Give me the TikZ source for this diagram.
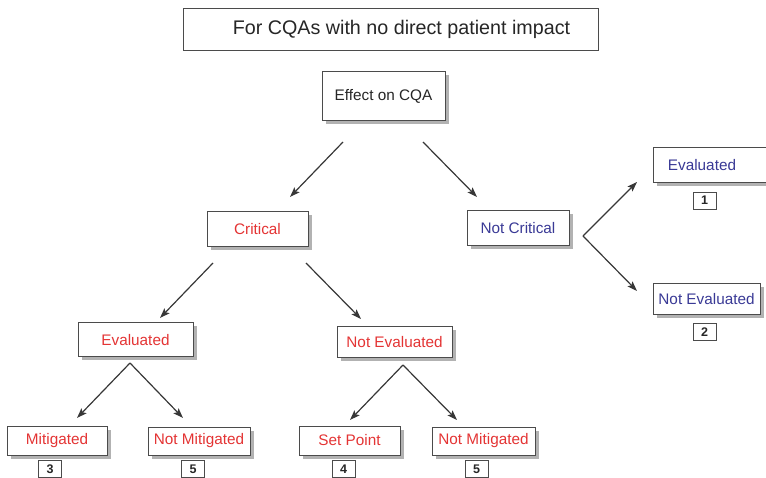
\documentclass[tikz,border=0pt]{standalone}
\usepackage{fontspec}
\setmainfont{Liberation Sans}
\usetikzlibrary{arrows.meta}

\definecolor{critred}{RGB}{228,52,52}
\definecolor{okblue}{RGB}{58,58,150}
\definecolor{edgegray}{RGB}{75,75,75}
\definecolor{arrowgray}{RGB}{55,55,55}
\definecolor{shadowgray}{RGB}{178,178,178}

\tikzset{
  box/.style={draw=edgegray, line width=1pt, fill=white, inner sep=0pt,
    font=\fontsize{15.3}{18}\selectfont,
    preaction={draw=none, fill=shadowgray,
      transform canvas={xshift=3.5pt, yshift=-3.5pt}}},
  redbox/.style={box, text=critred},
  bluebox/.style={box, text=okblue},
  numbox/.style={draw=edgegray, line width=0.9pt, fill=white, inner sep=0pt,
    minimum width=23pt, minimum height=17pt,
    font=\fontsize{12.5}{14}\selectfont\bfseries, text=black!85},
  arr/.style={draw=arrowgray, line width=1.2pt,
    -{Stealth[length=10pt,width=7pt,inset=2pt]}},
}

\begin{document}
\begin{tikzpicture}[x=1pt,y=-1pt]
  \useasboundingbox (0,0) rectangle (766,478);
  \clip (0,0) rectangle (766,478);

  % heading
  \node[draw=edgegray, line width=1pt, fill=white, minimum width=415pt,
        minimum height=42pt, inner sep=0pt] (title) at (390.5,30) {};
  \node[inner sep=0pt, font=\fontsize{19.7}{22}\selectfont, text=black!85]
        (titletext) at (401.5,29) {For CQAs with no direct patient impact};

  % root
  \node[box, minimum width=123pt, minimum height=49pt, text=black!85]
        (eff) at (383.5,96) {Effect on CQA};

  % second level
  \node[redbox, minimum width=101pt, minimum height=35pt]
        (crit) at (257.5,229.5) {Critical};
  \node[bluebox, minimum width=102pt, minimum height=35pt]
        (ncrit) at (518,228.5) {Not Critical};

  % not critical branch (the upper box runs past the right edge)
  \node[bluebox, minimum width=116pt, minimum height=35pt]
        (evalB) at (711,165.5) {};
  \node[inner sep=0pt, font=\fontsize{15.3}{18}\selectfont, text=okblue]
        (evalBtext) at (702,165.5) {Evaluated};
  \node[bluebox, minimum width=107pt, minimum height=31pt]
        (nevalB) at (706.5,299.5) {Not Evaluated};
  \node[numbox] (n1) at (704.5,200.5) {1};
  \node[numbox] (n2) at (704.5,332) {2};

  % critical branch
  \node[redbox, minimum width=115pt, minimum height=34pt]
        (evalR) at (135.5,340) {Evaluated};
  \node[redbox, minimum width=115pt, minimum height=31pt]
        (nevalR) at (394.5,342.5) {Not Evaluated};

  % leaves
  \node[redbox, minimum width=100pt, minimum height=29pt]
        (mit) at (57,440.5) {Mitigated};
  \node[redbox, minimum width=102pt, minimum height=28pt]
        (nmitA) at (199,441) {Not Mitigated};
  \node[redbox, minimum width=101pt, minimum height=29pt]
        (setp) at (349.5,440.5) {Set Point};
  \node[redbox, minimum width=103pt, minimum height=28pt]
        (nmitB) at (483.5,441) {Not Mitigated};

  \node[numbox] (n3) at (50,469) {3};
  \node[numbox] (n5a) at (193,469) {5};
  \node[numbox] (n4) at (343.5,469) {4};
  \node[numbox] (n5b) at (476.5,469) {5};

  % connector end points
  \coordinate (effL) at (343,142);
  \coordinate (effR) at (423,142);
  \coordinate (critIn) at (290,197);
  \coordinate (ncritIn) at (477,197);
  \coordinate (forkNC) at (583,236);
  \coordinate (evalBIn) at (637,182);
  \coordinate (nevalBIn) at (637,291);
  \coordinate (critL) at (213,263);
  \coordinate (critR) at (306,263);
  \coordinate (evalRIn) at (160,318);
  \coordinate (nevalRIn) at (361,319);
  \coordinate (forkE) at (130,363);
  \coordinate (mitIn) at (77,418);
  \coordinate (nmitAIn) at (183,418);
  \coordinate (forkNE) at (403,365);
  \coordinate (setpIn) at (350,420);
  \coordinate (nmitBIn) at (457,420);

  % connectors
  \draw[arr] (effL) -- (critIn);
  \draw[arr] (effR) -- (ncritIn);
  \draw[arr] (forkNC) -- (evalBIn);
  \draw[arr] (forkNC) -- (nevalBIn);
  \draw[arr] (critL) -- (evalRIn);
  \draw[arr] (critR) -- (nevalRIn);
  \draw[arr] (forkE) -- (mitIn);
  \draw[arr] (forkE) -- (nmitAIn);
  \draw[arr] (forkNE) -- (setpIn);
  \draw[arr] (forkNE) -- (nmitBIn);
\end{tikzpicture}
\end{document}
